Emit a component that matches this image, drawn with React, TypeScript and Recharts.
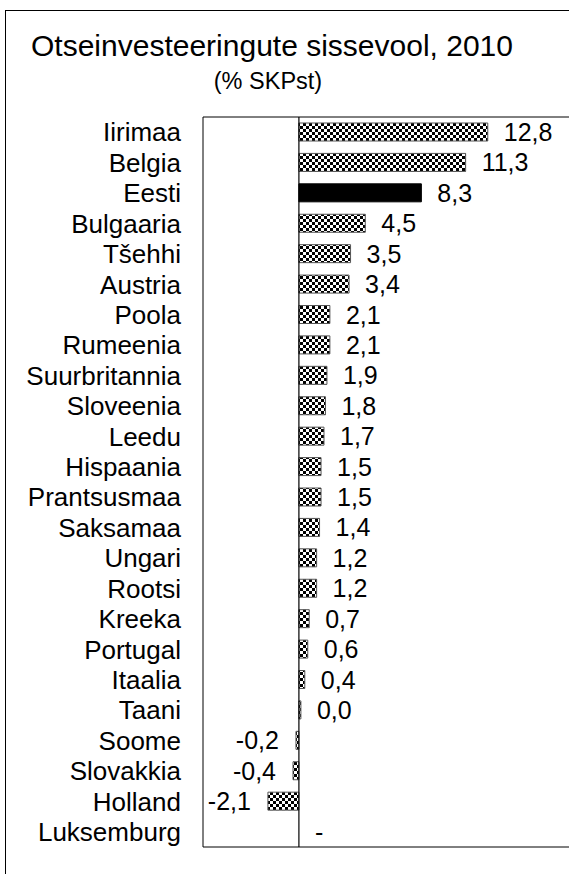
import React from 'react';
import { BarChart, Bar, XAxis, YAxis, ReferenceLine, ReferenceArea, ReferenceDot, LabelList, Cell } from 'recharts';

const countries = [
  'Iirimaa', 'Belgia', 'Eesti', 'Bulgaaria', 'Tšehhi', 'Austria', 'Poola', 'Rumeenia',
  'Suurbritannia', 'Sloveenia', 'Leedu', 'Hispaania', 'Prantsusmaa', 'Saksamaa', 'Ungari',
  'Rootsi', 'Kreeka', 'Portugal', 'Itaalia', 'Taani', 'Soome', 'Slovakkia', 'Holland', 'Luksemburg',
];

// Luksemburg has no figure, drawn as "-"
const inflow: (number | null)[] = [
  12.8, 11.3, 8.3, 4.5, 3.5, 3.4, 2.1, 2.1, 1.9, 1.8, 1.7, 1.5, 1.5, 1.4, 1.2, 1.2, 0.7, 0.6, 0.4, 0.0,
  -0.2, -0.4, -2.1, null,
];

const highlight = 'Eesti';
const xDomain: [number, number] = [-6.5, 20];

const FONT = '"Liberation Sans", Arial, sans-serif';

const chartData = countries.map((name, i) => ({ name, value: inflow[i] }));
const missing = chartData.filter((d) => d.value == null);

const fmt = (v: number | null | undefined) => (v == null ? '-' : Number(v).toFixed(1).replace('.', ','));

const labelText = (x: number, y: number, txt: string, anchor: 'start' | 'end') => (
  <text x={x} y={y} dy="0.36em" textAnchor={anchor} fontFamily={FONT} fontSize={25} fill="#000">
    {txt}
  </text>
);

// value label sits right of positive bars, left of negative ones
const ValueLabel = (props: any) => {
  const { x, y, width, height, value } = props;
  const left = Math.min(x, x + width);
  const right = Math.max(x, x + width);
  const neg = value != null && value < 0;
  return labelText(neg ? left - 17 : right + 16, y + height / 2, fmt(value), neg ? 'end' : 'start');
};

const MissingLabel = (props: any) => {
  const { x, y } = props.viewBox;
  return labelText(x + 16, y, '-', 'start');
};

export default function App() {
  return (
    <div style={{ position: 'absolute', left: 0, top: 0, width: 569, height: 874, overflow: 'hidden', background: '#fff' }}>
      <div
        style={{
          position: 'absolute', left: 5, top: 10, width: 700, height: 1000,
          borderLeft: '1px solid #000', borderTop: '1px solid #000',
        }}
      />
      <svg style={{ position: 'absolute', left: 0, top: 0 }} width={569} height={110}>
        <text x={272} y={56} textAnchor="middle" fontFamily={FONT} fontSize={30} fill="#000">
          Otseinvesteeringute sissevool, 2010
        </text>
        <text x={268} y={89} textAnchor="middle" fontFamily={FONT} fontSize={23.5} fill="#000">
          (% SKPst)
        </text>
      </svg>
      <div style={{ position: 'absolute', left: 0, top: 0 }}>
        <BarChart
          width={600}
          height={874}
          data={chartData}
          layout="vertical"
          margin={{ top: 117, right: 6, bottom: 27, left: 0 }}
          barSize={18}
        >
          <defs>
            <pattern id="checker" width="6" height="6" patternUnits="userSpaceOnUse">
              <rect width="6" height="6" fill="#fff" />
              <rect width="3" height="3" fill="#000" />
              <rect x="3" y="3" width="3" height="3" fill="#000" />
            </pattern>
          </defs>
          <XAxis type="number" domain={xDomain} hide allowDataOverflow />
          <YAxis
            type="category"
            dataKey="name"
            width={203}
            axisLine={false}
            tickLine={false}
            tickSize={0}
            tickMargin={22}
            interval={0}
            tick={{ fill: '#000', fontSize: 26, fontFamily: FONT }}
          />
          <ReferenceArea x1={xDomain[0]} x2={xDomain[1]} fill="none" stroke="#000" strokeWidth={1} ifOverflow="visible" />
          <Bar dataKey="value" isAnimationActive={false} stroke="#555" strokeWidth={1} minPointSize={2}>
            {chartData.map((d) => (
              <Cell key={d.name} fill={d.name === highlight ? '#000' : 'url(#checker)'} stroke={d.name === highlight ? '#000' : '#555'} />
            ))}
            <LabelList dataKey="value" content={ValueLabel} />
          </Bar>
          {missing.map((d) => (
            <ReferenceDot key={d.name} x={0} y={d.name} r={0} fill="none" stroke="none" label={<MissingLabel />} />
          ))}
          <ReferenceLine x={0} stroke="#000" strokeWidth={1.2} />
        </BarChart>
      </div>
    </div>
  );
}
